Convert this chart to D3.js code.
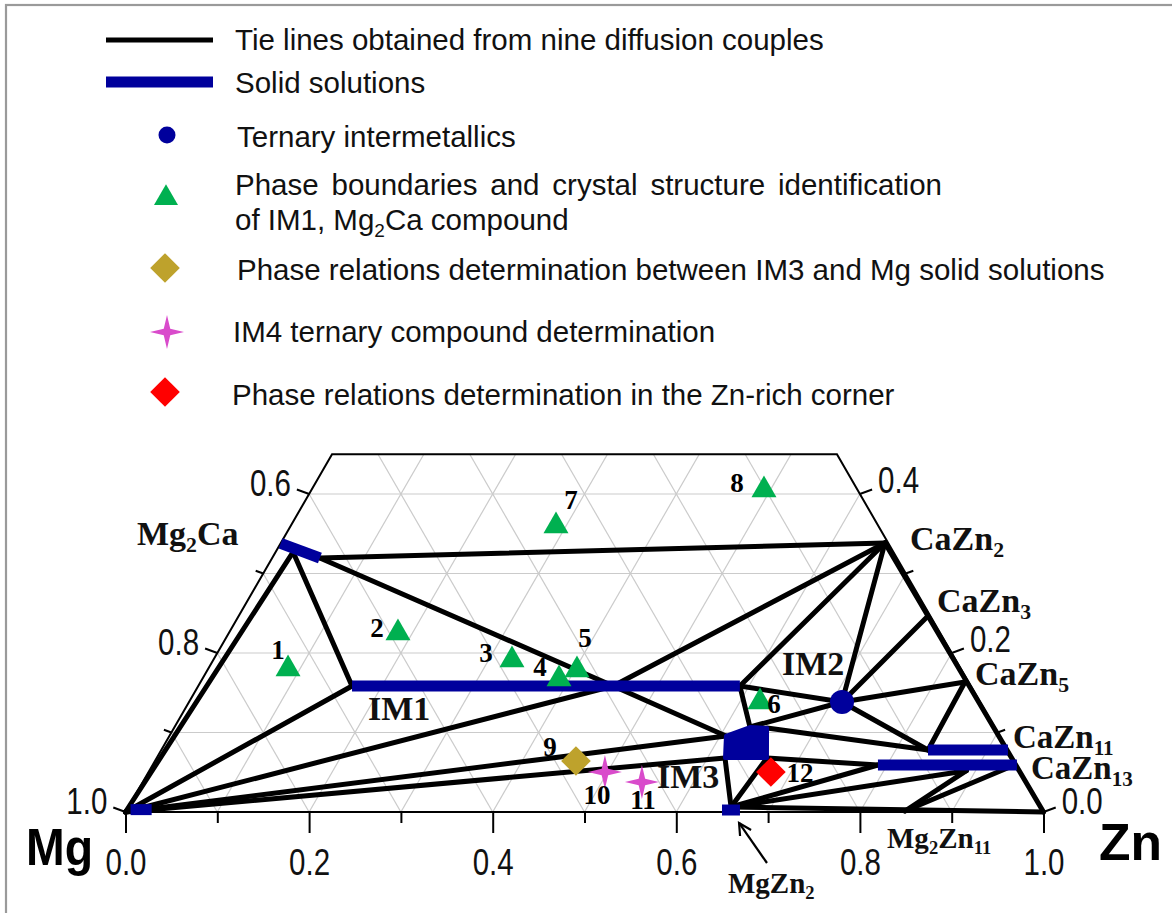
<!DOCTYPE html>
<html>
<head>
<meta charset="utf-8">
<script src="https://cdn.jsdelivr.net/npm/d3@7"></script>
<style>
  body { margin: 0; background: #fff; }
  svg { display: block; }
</style>
</head>
<body>
<svg id="chart" width="1172" height="913"></svg>
<script>
// Mg–Zn–Ca isothermal section. Compositions are mole fractions [x(Zn), x(Ca)].

// ---- phase nodes ----
const phaseNames = ["Mg", "Mg2Ca", "Mg2Ca'", "IM1a", "IM1x", "IM1b", "IM2",
  "IM3a", "IM3b", "IM3c", "IM3d", "IM3e", "MgZn2", "Mg2Zn11",
  "CaZn2", "CaZn3", "CaZn5", "CaZn11a", "CaZn11b", "CaZn13a", "CaZn13x", "CaZn13b", "Zn"];
const phaseZn = [0, 0.019, 0.052, 0.1675, 0.452, 0.590, 0.7113,
  0.6063, 0.6268, 0.6460, 0.6648, 0.6191, 0.6565, 0.8485,
  0.6581, 0.7509, 0.8327, 0.8352, 0.9223, 0.7901, 0.8900, 0.9340, 1];
const phaseCa = [0, 0.327, 0.3195, 0.1585, 0.1585, 0.1585, 0.1384,
  0.0956, 0.1069, 0.1057, 0.0679, 0.0679, 0.0063, 0.0013,
  0.3384, 0.2465, 0.1635, 0.078, 0.078, 0.0591, 0.0520, 0.0560, 0];

// ---- tie lines (pairs of phase nodes) ----
const tieLines = [
  ["Mg", "Mg2Ca"], ["Mg2Ca", "IM1a"], ["Mg", "IM1a"],
  ["Mg2Ca'", "CaZn2"], ["Mg2Ca'", "IM1x"], ["IM1x", "IM3a"],
  ["Mg", "IM1x"], ["IM1x", "CaZn2"],
  ["Mg", "IM3a"], ["Mg", "IM3e"],
  ["IM1b", "CaZn2"], ["IM1b", "IM2"], ["IM1b", "IM3b"],
  ["CaZn2", "IM2"], ["IM2", "CaZn3"], ["IM2", "CaZn5"], ["IM2", "CaZn11a"], ["IM2", "IM3b"],
  ["IM3c", "CaZn11a"], ["IM3d", "CaZn13a"], ["CaZn5", "CaZn11a"],
  ["MgZn2", "IM3e"], ["MgZn2", "IM3d"], ["MgZn2", "CaZn13a"], ["MgZn2", "CaZn13x"],
  ["Mg2Zn11", "CaZn13x"], ["Mg2Zn11", "CaZn13b"],
  ["CaZn2", "Zn"], ["MgZn2", "Zn"]
];

// ---- solid solution ranges ----
const ssNames = ["Mg", "Mg2Ca", "IM1", "MgZn2", "CaZn11", "CaZn13"];
const ssFrom = [[0.004, 0.003], [0.0, 0.338], [0.1675, 0.1585], [0.6485, 0.0025], [0.8352, 0.078], [0.7901, 0.0591]];
const ssTo   = [[0.027, 0.003], [0.052, 0.3195], [0.590, 0.1585], [0.6681, 0.0025], [0.9223, 0.078], [0.9415, 0.0591]];
const im3Region = ["IM3a", "IM3b", "IM3c", "IM3d", "IM3e"];

// ---- experimental alloys ----
const triangleIds = [1, 2, 3, 4, 5, 6, 7, 8];
const triangleZn = [0.0871, 0.1842, 0.3254, 0.3886, 0.4025, 0.6220, 0.2891, 0.4930];
const triangleCa = [0.1799, 0.2252, 0.1912, 0.1673, 0.1786, 0.1384, 0.3597, 0.4050];
const olive9 = { id: 9, zn: 0.4586, ca: 0.0642 };
const starIds = [10, 11];
const starZn = [0.4971, 0.5437];
const starCa = [0.0503, 0.0377];
const red12 = { id: 12, zn: 0.6779, ca: 0.0503 };
const ternaryIds = ["IM2"];

// ---- axis ticks ----
const bottomLabels = ["0.0", "0.2", "0.4", "0.6", "0.8", "1.0"];
const leftTicks = [0.6, 0.7, 0.8, 0.9, 1.0];     // x(Mg)
const leftLabels = ["0.6", "0.8", "1.0"];
const rightTicks = [0.4, 0.3, 0.2, 0.1, 0.0];    // x(Ca)
const rightLabels = ["0.4", "0.2", "0.0"];
const caMax = 0.45;

// ---- legend ----
const legendItems = [
  "Tie lines obtained from nine diffusion couples",
  "Solid solutions",
  "Ternary intermetallics",
  "Phase boundaries and crystal structure identification",
  "Phase relations determination between IM3 and Mg solid solutions",
  "IM4 ternary compound determination",
  "Phase relations determination in the Zn-rich corner"
];

// ---------------------------------------------------------------
const C = {
  navy: "#00009c", green: "#00b050", olive: "#bea22c",
  magenta: "#d94bcb", red: "#ff0000", grid: "#cbcbcb", ink: "#000"
};
const SANS = "'Liberation Sans', Arial, sans-serif";
const SERIF = "'Liberation Serif', 'Times New Roman', serif";

const svg = d3.select("#chart");
const W = 1172, H = 913;
svg.append("rect").attr("width", W).attr("height", H).attr("fill", "#fff");
// outer frame
svg.append("rect").attr("x", 6).attr("y", 5).attr("width", W + 20).attr("height", H + 20)
  .attr("fill", "none").attr("stroke", "#9a9a9a").attr("stroke-width", 2.2);

// ternary projection through linear scales
const side = 918;
const xS = d3.scaleLinear().domain([0, 1]).range([125.5, 125.5 + side]);
const yS = d3.scaleLinear().domain([0, 1]).range([812, 812 - side * Math.sqrt(3) / 2]);
const P = (zn, ca) => [xS(zn + ca / 2), yS(ca)];
const idx = Object.fromEntries(phaseNames.map((n, i) => [n, i]));
const node = n => P(phaseZn[idx[n]], phaseCa[idx[n]]);
const line = d3.line();

const plot = svg.append("g");

// triangular grid, clipped to the trapezoid
const clip = svg.append("clipPath").attr("id", "trap");
clip.append("path").attr("d", line([P(0, 0), P(1, 0), P(1 - caMax, caMax), P(0, caMax)]) + "Z");
const grid = plot.append("g").attr("clip-path", "url(#trap)")
  .attr("stroke", C.grid).attr("stroke-width", 1.2).attr("fill", "none");
const steps = d3.range(0.1, 0.95, 0.1);
steps.forEach(v => {
  if (v < caMax) grid.append("path").attr("d", line([P(0, v), P(1 - v, v)]));   // constant Ca
  grid.append("path").attr("d", line([P(v, 0), P(v, 1 - v)]));                   // constant Zn
  grid.append("path").attr("d", line([P(v, 0), P(0, v)]));                       // constant Mg
});

// frame of the section
plot.append("path")
  .attr("d", line([P(0, 0), P(1, 0), P(1 - caMax, caMax), P(0, caMax)]) + "Z")
  .attr("fill", "none").attr("stroke", C.ink).attr("stroke-width", 2);

// bottom axis (x Zn)
const axMajor = d3.axisBottom(xS).tickValues(d3.range(0, 1.0001, 0.2)).tickSize(21).tickFormat((d, i) => bottomLabels[i]);
const axMinor = d3.axisBottom(xS).tickValues(d3.range(0.1, 1, 0.2)).tickSize(11).tickFormat("");
const gMaj = plot.append("g").attr("transform", "translate(0,812)").call(axMajor);
const gMin = plot.append("g").attr("transform", "translate(0,812)").call(axMinor);
[gMaj, gMin].forEach(g => {
  g.select(".domain").remove();
  g.selectAll("line").attr("stroke", C.ink).attr("stroke-width", 2);
});
gMaj.selectAll("text").attr("y", 63).attr("dy", null)
  .attr("font-family", SANS).attr("font-size", 36).attr("fill", "#111")
  .attr("textLength", 41).attr("lengthAdjust", "spacingAndGlyphs");

// side ticks and labels
const tickDir = 20 * Math.PI / 180;
const ticks = plot.append("g").attr("stroke", C.ink).attr("stroke-width", 2);
const numLabel = (x, y, txt, anchor) => plot.append("text")
  .attr("x", x).attr("y", y).attr("text-anchor", anchor)
  .attr("font-family", SANS).attr("font-size", 36).attr("fill", "#111")
  .attr("textLength", 41).attr("lengthAdjust", "spacingAndGlyphs").text(txt);

leftTicks.forEach(mg => {
  const [x, y] = P(0, 1 - mg);
  const major = leftLabels.includes(mg.toFixed(1));
  const len = major ? 13 : 8;
  const x2 = x - len * Math.cos(tickDir), y2 = y - len * Math.sin(tickDir);
  ticks.append("line").attr("x1", x).attr("y1", y).attr("x2", x2).attr("y2", y2);
  if (major) numLabel(x2 - 6, y2 + 6, mg.toFixed(1), "end");
});
rightTicks.forEach(ca => {
  const [x, y] = P(1 - ca, ca);
  const major = rightLabels.includes(ca.toFixed(1));
  const len = major ? 13 : 8;
  const x2 = x + len * Math.cos(tickDir), y2 = y - len * Math.sin(tickDir);
  ticks.append("line").attr("x1", x).attr("y1", y).attr("x2", x2).attr("y2", y2);
  if (major) numLabel(x2 + 6, y2 + (ca === 0 ? 6 : 3), ca.toFixed(1), "start");
});

// corner element names
plot.append("text").attr("x", 26).attr("y", 865).attr("font-family", SANS).attr("font-weight", "bold")
  .attr("font-size", 52).attr("textLength", 67).attr("lengthAdjust", "spacingAndGlyphs").text("Mg");
plot.append("text").attr("x", 1099).attr("y", 860).attr("font-family", SANS).attr("font-weight", "bold")
  .attr("font-size", 52).attr("textLength", 63).attr("lengthAdjust", "spacingAndGlyphs").text("Zn");

// tie lines
plot.append("g").selectAll("path").data(tieLines).join("path")
  .attr("d", d => line([node(d[0]), node(d[1])]))
  .attr("fill", "none").attr("stroke", C.ink).attr("stroke-width", 5).attr("stroke-linecap", "round");

// solid solutions
plot.append("g").selectAll("path").data(ssNames).join("path")
  .attr("d", (d, i) => line([P(...ssFrom[i]), P(...ssTo[i])]))
  .attr("fill", "none").attr("stroke", C.navy).attr("stroke-width", 11);
plot.append("path").attr("d", line(im3Region.map(node)) + "Z")
  .attr("fill", C.navy).attr("stroke", C.navy).attr("stroke-width", 4).attr("stroke-linejoin", "round");

// symbols
const star4 = {
  draw(ctx, size) {
    const R = Math.sqrt(size), r = R * 0.27;
    for (let k = 0; k < 8; k++) {
      const a = k * Math.PI / 4 - Math.PI / 2, rr = k % 2 ? r : R;
      const x = rr * Math.cos(a), y = rr * Math.sin(a);
      k ? ctx.lineTo(x, y) : ctx.moveTo(x, y);
    }
    ctx.closePath();
  }
};
const triPath = d3.symbol(d3.symbolTriangle, 270)();
const diaPath = d3.symbol(d3.symbolSquare, 440)();
const starPath = d3.symbol(star4, 17 * 17)();

const marks = plot.append("g");
marks.selectAll(".tri").data(triangleIds).join("path").attr("class", "tri")
  .attr("d", triPath).attr("fill", C.green)
  .attr("transform", (d, i) => `translate(${P(triangleZn[i], triangleCa[i])})`);
marks.append("path").attr("d", diaPath).attr("fill", C.olive)
  .attr("transform", `translate(${P(olive9.zn, olive9.ca)}) rotate(45)`);
marks.selectAll(".star").data(starIds).join("path").attr("class", "star")
  .attr("d", starPath).attr("fill", C.magenta)
  .attr("transform", (d, i) => `translate(${P(starZn[i], starCa[i])})`);
marks.append("path").attr("d", diaPath).attr("fill", C.red)
  .attr("transform", `translate(${P(red12.zn, red12.ca)}) rotate(45)`);
marks.selectAll(".ternary").data(ternaryIds).join("circle").attr("class", "ternary")
  .attr("cx", d => node(d)[0]).attr("cy", d => node(d)[1]).attr("r", 12).attr("fill", C.navy);

// alloy numbers
const numOffset = { 1: [-10, -19], 2: [-21, -5], 3: [-26, -7], 4: [-19, -12], 5: [8, -32], 6: [14, 2],
  7: [15, -26], 8: [-27, -7], 9: [-26, -14], 10: [-8, 23], 11: [1, 18], 12: [29, 1] };
const alloyPos = {};
triangleIds.forEach((id, i) => alloyPos[id] = P(triangleZn[i], triangleCa[i]));
alloyPos[9] = P(olive9.zn, olive9.ca);
starIds.forEach((id, i) => alloyPos[id] = P(starZn[i], starCa[i]));
alloyPos[12] = P(red12.zn, red12.ca);
plot.append("g").selectAll("text").data(Object.keys(alloyPos)).join("text")
  .attr("x", d => alloyPos[d][0] + numOffset[d][0])
  .attr("y", d => alloyPos[d][1] + numOffset[d][1])
  .attr("text-anchor", "middle").attr("dominant-baseline", "central")
  .attr("font-family", SERIF).attr("font-weight", "bold").attr("font-size", 27).text(d => d);

// phase labels: [base, subscript, tail, subscript], left x, baseline y, size
const phaseLabels = [
  ["Mg", "2", "Ca", "", 137, 545, 34], ["CaZn", "2", "", "", 910, 550, 34], ["CaZn", "3", "", "", 937, 612, 34],
  ["CaZn", "5", "", "", 975, 685, 34], ["CaZn", "11", "", "", 1013, 748, 33], ["CaZn", "13", "", "", 1031, 779, 33],
  ["IM1", "", "", "", 368, 720, 34], ["IM2", "", "", "", 782, 675, 34], ["IM3", "", "", "", 657, 788, 34],
  ["MgZn", "2", "", "", 728, 893, 29], ["Mg", "2", "Zn", "11", 887, 848, 29]
];
phaseLabels.forEach(([a, s, b, s2, x, y, fs]) => {
  const t = plot.append("text").attr("x", x).attr("y", y)
    .attr("font-family", SERIF).attr("font-weight", "bold").attr("font-size", fs).attr("fill", "#111");
  const sub = fs * 0.2;
  t.append("tspan").text(a);
  if (s) t.append("tspan").attr("dy", sub).attr("font-size", fs * 0.64).text(s);
  if (b) t.append("tspan").attr("dy", -sub).text(b);
  if (s2) t.append("tspan").attr("dy", sub).attr("font-size", fs * 0.64).text(s2);
});

// arrow to MgZn2
const arrowTip = node("MgZn2");
plot.append("path").attr("d", line([[767, 863], [arrowTip[0] + 8, arrowTip[1] + 16]]))
  .attr("stroke", C.ink).attr("stroke-width", 2.2).attr("fill", "none");
plot.append("path").attr("d", line([[arrowTip[0] + 9, arrowTip[1] + 29], [arrowTip[0] + 8, arrowTip[1] + 16], [arrowTip[0] + 20, arrowTip[1] + 23]]))
  .attr("stroke", C.ink).attr("stroke-width", 2.2).attr("fill", "none");

// ---- legend ----
const lg = svg.append("g");
const rowsY = [50, 93, 147, 195, 280, 342, 405];
const textX = [235, 235, 237, 235, 237, 233, 232];
const LFS = 29.5;
lg.append("line").attr("x1", 106).attr("x2", 213).attr("y1", 40).attr("y2", 40)
  .attr("stroke", C.ink).attr("stroke-width", 5);
lg.append("line").attr("x1", 106).attr("x2", 213).attr("y1", 82).attr("y2", 82)
  .attr("stroke", C.navy).attr("stroke-width", 11);
lg.append("circle").attr("cx", 167).attr("cy", 135).attr("r", 8.5).attr("fill", C.navy);
lg.append("path").attr("d", d3.symbol(d3.symbolTriangle, 250)()).attr("fill", C.green).attr("transform", "translate(166,198)");
lg.append("path").attr("d", diaPath).attr("fill", C.olive).attr("transform", "translate(165,268) rotate(45)");
lg.append("path").attr("d", starPath).attr("fill", C.magenta).attr("transform", "translate(167,332)");
lg.append("path").attr("d", diaPath).attr("fill", C.red).attr("transform", "translate(165,392) rotate(45)");

legendItems.forEach((txt, i) => {
  const t = lg.append("text").attr("x", textX[i]).attr("y", rowsY[i])
    .attr("font-family", SANS).attr("font-size", LFS).attr("fill", "#111").text(txt);
  if (i === 3) {
    // justified first line
    const natural = t.node().getComputedTextLength();
    const gaps = txt.split(" ").length - 1;
    t.attr("word-spacing", (942 - textX[i] - natural) / gaps);
  }
});
const l2 = lg.append("text").attr("x", 235).attr("y", 230)
  .attr("font-family", SANS).attr("font-size", LFS).attr("fill", "#111");
l2.append("tspan").text("of IM1, Mg");
l2.append("tspan").attr("dy", 7).attr("font-size", 19).text("2");
l2.append("tspan").attr("dy", -7).text("Ca compound");
</script>
</body>
</html>
